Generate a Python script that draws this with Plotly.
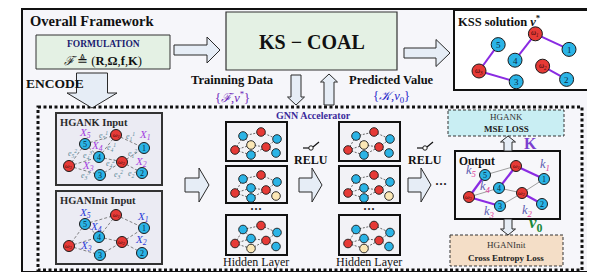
import math
import plotly.graph_objects as go

W, H = 595, 272
SERIF = "Liberation Serif"

# ---------------- data ----------------
NODE_NAMES = ["w1", "n1", "n5", "n4", "w3", "n3", "w2", "n2"]
NODE_KIND = ["red", "blue", "blue", "blue", "red", "blue", "red", "blue"]
NODE_TEXT = ["ω<sub>1</sub>", "1", "5", "4", "ω<sub>3</sub>", "3", "ω<sub>2</sub>", "2"]
# base layout (relative to node ω3)
NODE_DX = [47, 75, 16, 30, 0, 31, 53, 73]
NODE_DY = [-31, -18, -22, -9, 0, 9, -4, 7]

SOLUTION_EDGES = [("w1", "n1"), ("w1", "n4"), ("n5", "w3"), ("w3", "n3"), ("w2", "n2")]
CANDIDATE_EDGES = [("n5", "w1"), ("w3", "n4"), ("n4", "w2"), ("w2", "n1"), ("n3", "w2")]
INPUT_EDGES = [("n5", "w1"), ("w1", "n1"), ("n5", "w3"), ("w3", "n4"), ("w3", "n3"),
               ("n4", "w1"), ("n4", "w2"), ("w2", "n1"), ("w2", "n2"), ("n3", "w2"), ("n5", "n4")]

# mini graphs in hidden layer boxes (relative to box corner)
MINI_DX = [17, 35, 51, 9, 25, 40, 25, 50]
MINI_DY = [14, 10, 17, 28, 23, 25, 33, 31]
MINI_KIND = ["blue", "red", "blue", "red", "blue", "red", "blue", "blue"]
MINI_EDGES = [(0, 1), (1, 2), (0, 3), (3, 4), (4, 5), (5, 2), (3, 6), (6, 5), (5, 7), (0, 4)]
MINI_CREAM = [4, 7, 6]  # which node is highlighted in each of the 3 boxes

X_LABELS = ["X<sub>1</sub>", "X<sub>2</sub>", "X<sub>3</sub>", "X<sub>4</sub>", "X<sub>5</sub>"]
K_LABELS = ["k<sub>1</sub>", "k<sub>2</sub>", "k<sub>3</sub>", "k<sub>4</sub>", "k<sub>5</sub>"]

COL = {"red": "#e63a36", "blue": "#2bb4e6", "cream": "#fbe7b5"}

shapes = []
ann = []


def rect(x0, y0, x1, y1, fill, line="#222", lw=1.5, dash="solid", layer="above"):
    shapes.append(dict(type="rect", x0=x0, y0=y0, x1=x1, y1=y1, fillcolor=fill,
                       line=dict(color=line, width=lw, dash=dash), layer=layer))


def text(x, y, s, size, color="#111", bold=False, xa="center", font=SERIF, ya="middle"):
    if bold:
        s = "<b>" + s + "</b>"
    ann.append(dict(x=x, y=y, text=s, showarrow=False, xanchor=xa, yanchor=ya,
                    font=dict(family=font, size=size, color=color), borderpad=0))


def line(x0, y0, x1, y1, color, w=1, dash="solid"):
    shapes.append(dict(type="line", x0=x0, y0=y0, x1=x1, y1=y1,
                       line=dict(color=color, width=w, dash=dash)))


def circle(cx, cy, r, fill, lw=1):
    shapes.append(dict(type="circle", x0=cx - r, x1=cx + r, y0=cy - r, y1=cy + r,
                       fillcolor=fill, line=dict(color="#1a1a1a", width=lw)))


def block_arrow(x0, y0, x1, y1, sw, hw, hl, fill="#e6edf6"):
    dx, dy = x1 - x0, y1 - y0
    L = math.hypot(dx, dy)
    ux, uy = dx / L, dy / L
    px, py = -uy, ux
    b = L - hl
    pts = [
        (x0 + px * sw / 2, y0 + py * sw / 2),
        (x0 + ux * b + px * sw / 2, y0 + uy * b + py * sw / 2),
        (x0 + ux * b + px * hw / 2, y0 + uy * b + py * hw / 2),
        (x1, y1),
        (x0 + ux * b - px * hw / 2, y0 + uy * b - py * hw / 2),
        (x0 + ux * b - px * sw / 2, y0 + uy * b - py * sw / 2),
        (x0 - px * sw / 2, y0 - py * sw / 2),
    ]
    p = "M " + " L ".join(f"{a:.1f},{c:.1f}" for a, c in pts) + " Z"
    shapes.append(dict(type="path", path=p, fillcolor=fill, line=dict(color="#2a2a2a", width=1)))


def graph(ox, oy, s, r, edges_spec, label_size):
    pos = {n: (ox + dx * s, oy + dy * s) for n, dx, dy in zip(NODE_NAMES, NODE_DX, NODE_DY)}
    for edges, color, w, dash in edges_spec:
        for a, b in edges:
            line(*pos[a], *pos[b], color, w, dash)
    for n, k, t in zip(NODE_NAMES, NODE_KIND, NODE_TEXT):
        circle(*pos[n], r, COL[k], 1)
        if k == "red":
            text(pos[n][0], pos[n][1], "<i>" + t + "</i>", label_size * 0.8, "#3a0808")
        else:
            text(pos[n][0], pos[n][1] + 0.5, t, label_size, "#0a2a40")
    return pos


# ---------------- background / frames ----------------
rect(14, 1, 585, 264, "#f6f6fa", "#111", 2, layer="below")
rect(30, 99, 574, 262, "rgba(0,0,0,0)", "#111", 3, dash="3px,2.5px")

# ---------------- top row ----------------
text(21, 13, "Overall Framework", 14.5, bold=True, xa="left")
rect(28, 27, 162, 61, "#e4f1e4", "#333", 1)
text(95, 36, "FORMULATION", 9.5, "#1b1b70", bold=True)
text(95, 52, "<i>ℱ</i> ≜ (<b>R</b>,<b>Ω</b>,<b>f</b>,<b>K</b>)", 12.5)
text(17, 75, "ENCODE", 13.5, bold=True, xa="left")
block_arrow(84, 65, 84, 100, 31, 50, 15)

block_arrow(166, 42, 212, 42, 10, 26, 13)
rect(218, 4, 389, 62, "#e4f1e4", "#333", 1.2)
text(304, 34, "KS − COAL", 20, bold=True)
block_arrow(396, 45, 442, 45, 10, 27, 14)

rect(446, 2, 580, 82, "#ffffff", "#111", 2)
text(449, 13, "KSS solution <i>ν</i><sup>*</sup>", 12.5, bold=True, xa="left")
graph(471, 63, 1.2, 7, [(SOLUTION_EDGES, "#8a2be2", 2, "solid")], 9)

text(224, 72, "Trainning Data", 12.5, bold=True)
text(224, 89, "{<i>ℱ</i>,<i>ν</i><sup>*</sup>}", 12.5, "#6a22b8")
text(383, 72, "Predicted Value", 12.5, bold=True)
text(383, 89, "{<i>𝒦</i>,<i>ν</i><sub>0</sub>}", 12.5, "#2424c8")
block_arrow(288, 67, 288, 97, 10, 17, 8)
block_arrow(321, 97, 321, 66, 10, 17, 8)

# ---------------- GNN accelerator ----------------
text(305, 107, "GNN Accelerator", 10, "#3a2a9a", bold=True)

# inputs
rect(48, 105, 154, 177, "#ebebf3", "#333", 2)
text(51, 114, "HGANK Input", 10.5, "#2a2a2a", bold=True, xa="left")
graph(61, 158, 1.0, 5.5, [(INPUT_EDGES, "#666", 0.8, "3px,2px")], 8)
XK_POS_X = [137, 133, 80, 89, 77]
XK_POS_Y = [127, 154, 158, 138, 125]
for t, x, y in zip(X_LABELS, XK_POS_X, XK_POS_Y):
    text(x, y, "<i>" + t + "</i>", 11, "#a43de0")
E_LABELS = ["e<sub>5</sub><sup>1</sup>", "e<sub>1</sub><sup>1</sup>", "e<sub>4</sub><sup>1</sup>",
            "e<sub>5</sub><sup>2</sup>", "e<sub>4</sub><sup>3</sup>", "e<sub>1</sub><sup>2</sup>",
            "e<sub>4</sub><sup>2</sup>", "e<sub>3</sub><sup>3</sup>", "e<sub>3</sub><sup>2</sup>",
            "e<sub>2</sub><sup>2</sup>"]
E_X = [95, 122, 103, 64, 79, 124, 102, 77, 110, 124]
E_Y = [127, 128, 139, 145, 147, 145, 155, 167, 166, 165]
for t, x, y in zip(E_LABELS, E_X, E_Y):
    text(x, y, "<i>" + t + "</i>", 8, "#5a8a9a")

rect(48, 183, 154, 256, "#ebebf3", "#333", 2)
text(51, 192, "HGANInit Input", 10.5, "#2a2a2a", bold=True, xa="left")
graph(61, 238, 1.0, 5.5, [(INPUT_EDGES, "#666", 0.8, "3px,2px")], 8)
XI_POS_X = [135, 133, 78, 88, 77]
XI_POS_Y = [209, 232, 238, 219, 205]
for t, x, y in zip(X_LABELS, XI_POS_X, XI_POS_Y):
    text(x, y, "<i>" + t + "</i>", 11, "#2a3ad8")

block_arrow(177, 177, 201, 177, 14, 34, 10)

# hidden layers
BOX_Y = [(114, 153), (158, 195), (207, 247)]
for bx in (218, 331):
    for (y0, y1), cream in zip(BOX_Y, MINI_CREAM):
        rect(bx, y0, bx + 61, y1, "#f2f2f6", "#111", 2)
        oy = y0 + (y1 - y0 - 39) / 2
        pts = [(bx + dx, oy + dy) for dx, dy in zip(MINI_DX, MINI_DY)]
        for a, b in MINI_EDGES:
            line(*pts[a], *pts[b], "#444", 0.8, "2px,1.5px")
        for i, (p, k) in enumerate(zip(pts, MINI_KIND)):
            circle(*p, 4.3, COL["cream"] if i == cream else COL[k], 0.9)
    text(bx + 30, 201, "···", 12, "#111", bold=True)
    text(bx + 30, 254, "Hidden Layer", 12)

# RELU + arrows
for rx, ax0 in ((303, 291), (417, 400)):
    line(rx - 8, 140, rx - 2, 140, "#111", 1.2)
    circle(rx, 140, 2.2, "#ffffff", 1)
    line(rx + 2, 139, rx + 8, 134, "#111", 1.2)
    text(rx, 152, "RELU", 12, bold=True)
    block_arrow(ax0, 177, ax0 + 23, 177, 14, 34, 10)
text(433, 176, "···", 12, bold=True)

# output
rect(447, 143, 552, 211, "#f7f7fa", "#111", 2)
text(450, 153, "Output", 11.5, bold=True, xa="left")
graph(461, 189, 1.0, 5.5, [(CANDIDATE_EDGES, "#777", 0.7, "solid"),
                           (SOLUTION_EDGES, "#8a2be2", 2.2, "solid")], 8)
K_X = [537, 519, 481, 477, 463]
K_Y = [157, 203, 204, 179, 163]
for t, x, y in zip(K_LABELS, K_X, K_Y):
    text(x, y, "<i>" + t.replace("<sub>", "<sub><span style='color:#e0409a'>").replace("</sub>", "</span></sub>") + "</i>", 12.5, "#5a5ab0")

# losses
rect(440, 102, 556, 128, "#c9eef3", "#333", 1, dash="3px,2px")
text(498, 109, "HGANK", 9, "#333")
text(498, 121, "MSE LOSS", 9, "#222", bold=True)
block_arrow(500, 143, 500, 128, 8, 15, 6)
text(522, 135, "K", 16, "#7b3fcf", bold=True)

rect(442, 227, 555, 258, "#f4dec7", "#333", 1, dash="3px,2px")
text(498, 237, "HGANInit", 9, "#333")
text(498, 250, "Cross Entropy Loss", 9, "#222", bold=True)
block_arrow(500, 211, 500, 227, 8, 15, 6)
text(528, 216, "<i>ν</i><sub>0</sub>", 17, "#1a8a3a", bold=True)

fig = go.Figure()
fig.update_layout(
    width=W, height=H, margin=dict(l=0, r=0, t=0, b=0),
    paper_bgcolor="white", plot_bgcolor="white",
    xaxis=dict(range=[0, W], visible=False, fixedrange=True),
    yaxis=dict(range=[H, 0], visible=False, fixedrange=True),
    shapes=shapes, annotations=ann, showlegend=False,
)
fig.write_html("out.html")
